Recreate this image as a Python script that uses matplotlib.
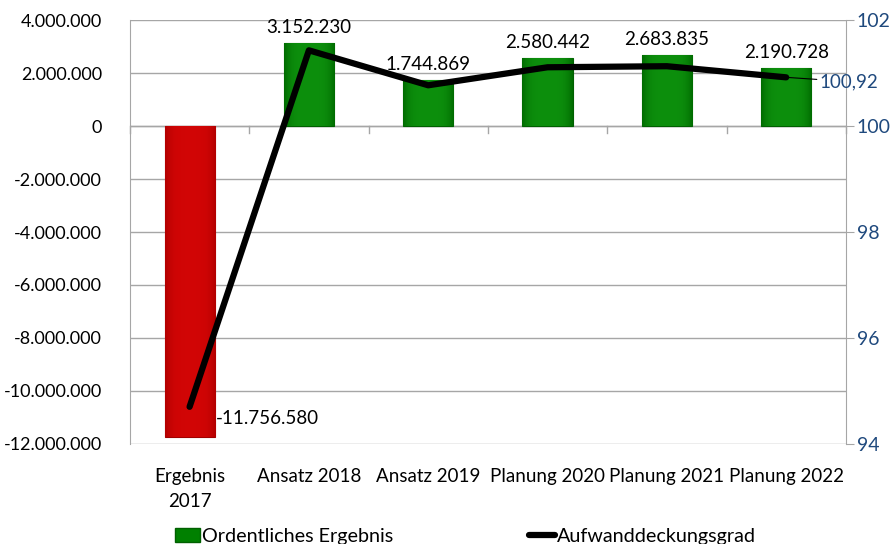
import numpy as np
import matplotlib
matplotlib.use("Agg")
import matplotlib.pyplot as plt
from matplotlib.lines import Line2D
from matplotlib.patches import Patch

categories = ["Ergebnis\n2017", "Ansatz 2018", "Ansatz 2019", "Planung 2020", "Planung 2021", "Planung 2022"]
ergebnis = [-11756580, 3152230, 1744869, 2580442, 2683835, 2190728]
deckungsgrad = [94.70, 101.43, 100.77, 101.11, 101.13, 100.92]
left_ticks = [4000000, 2000000, 0, -2000000, -4000000, -6000000, -8000000, -10000000, -12000000]
right_ticks = [94, 96, 98, 100, 102]

FONT = "Lato"
plt.rcParams["font.family"] = [FONT, "DejaVu Sans"]
FS = 13
BLUE = "#1F497D"

def fmt_de(v):
    s = f"{abs(int(v)):,}".replace(",", ".")
    return ("-" if v < 0 else "") + s

fig = plt.figure(figsize=(8.96, 5.44), dpi=100)
ax = fig.add_axes([0.145, 0.184, 0.799, 0.779])
x = np.arange(len(categories))
width = 0.42

ax.set_ylim(-12000000, 4000000)
ax.set_xlim(-0.5, len(categories) - 0.5)
ax.set_yticks(left_ticks)
ax.set_yticklabels([fmt_de(v) for v in left_ticks], fontsize=FS)
ax.grid(axis="y", color="#A6A6A6", lw=1)
ax.set_axisbelow(True)
ax.tick_params(axis="y", length=0, pad=20)
ax.set_xticks(x)
ax.set_xticklabels(categories, fontsize=13.5, linespacing=1.6)
ax.tick_params(axis="x", length=0, pad=17)
for s in ["top", "bottom"]:
    ax.spines[s].set_visible(False)
ax.spines["left"].set_color("#A6A6A6")
ax.spines["right"].set_visible(False)

# axis line at zero with category separators
ax.axhline(0, color="#A6A6A6", lw=1, zorder=1)
for b in np.arange(-0.5, len(categories) + 0.5, 1.0):
    ax.plot([b, b], [0, -250000], color="#A6A6A6", lw=1, zorder=1, clip_on=False)

bars = ax.bar(x, ergebnis, width=width, zorder=2,
              color=["#C00000" if v < 0 else "#008000" for v in ergebnis],
              edgecolor=["#A00000" if v < 0 else "#006000" for v in ergebnis], lw=0.8)

# gradient shading
grad = np.abs(np.linspace(-1, 1, 64))
for b, v in zip(bars, ergebnis):
    if v < 0:
        c0, c1 = np.array([0.82, 0.02, 0.02]), np.array([0.70, 0.0, 0.0])
    else:
        c0, c1 = np.array([0.05, 0.56, 0.05]), np.array([0.0, 0.42, 0.0])
    img = c0[None, :] * (1 - grad[:, None] ** 4) + c1[None, :] * (grad[:, None] ** 4)
    img = img[None, :, :]
    bx, by = b.get_x(), b.get_y()
    im = ax.imshow(img, extent=[bx, bx + b.get_width(), by, by + b.get_height()],
                   aspect="auto", zorder=2.1, interpolation="bilinear")
    im.set_clip_path(b)

for xi, v in zip(x, ergebnis):
    if v >= 0:
        ax.annotate(fmt_de(v), (xi, v), xytext=(0, 5), textcoords="offset points",
                    ha="center", va="bottom", fontsize=13.5, zorder=5)
    else:
        ax.annotate(fmt_de(v), (xi + width / 2, -11000000), xytext=(1, -1),
                    textcoords="offset points", ha="left", va="center", fontsize=13.5, zorder=5)

ax2 = ax.twinx()
ax2.set_ylim(94, 102)
ax2.set_yticks(right_ticks)
ax2.set_yticklabels([str(t) for t in right_ticks], fontsize=14, color=BLUE)
ax2.tick_params(axis="y", length=6, color="#A6A6A6", pad=2)
for s in ["top", "bottom", "left"]:
    ax2.spines[s].set_visible(False)
ax2.spines["right"].set_color("#A6A6A6")
ax2.plot(x, deckungsgrad, color="black", lw=4.5, solid_capstyle="round", zorder=4)
last = deckungsgrad[-1]
ax2.annotate(f"{last:.2f}".replace(".", ","), (x[-1], last), xytext=(x[-1] + 0.28, last - 0.08),
             textcoords="data", ha="left", va="center", fontsize=13.5, color=BLUE,
             arrowprops=dict(arrowstyle="-", color="black", lw=0.8, shrinkA=0, shrinkB=0))

handles = [Patch(facecolor="#008000", edgecolor="#006000"),
           Line2D([0], [0], color="black", lw=4.5, solid_capstyle="round")]
fig.legend(handles, ["Ordentliches Ergebnis", "Aufwanddeckungsgrad"], loc="lower left",
           bbox_to_anchor=(0.175, -0.035), ncol=2, frameon=False, fontsize=14.2,
           columnspacing=6.9, handlelength=1.3, handletextpad=0.1)

fig.savefig("out.png", dpi=100)
